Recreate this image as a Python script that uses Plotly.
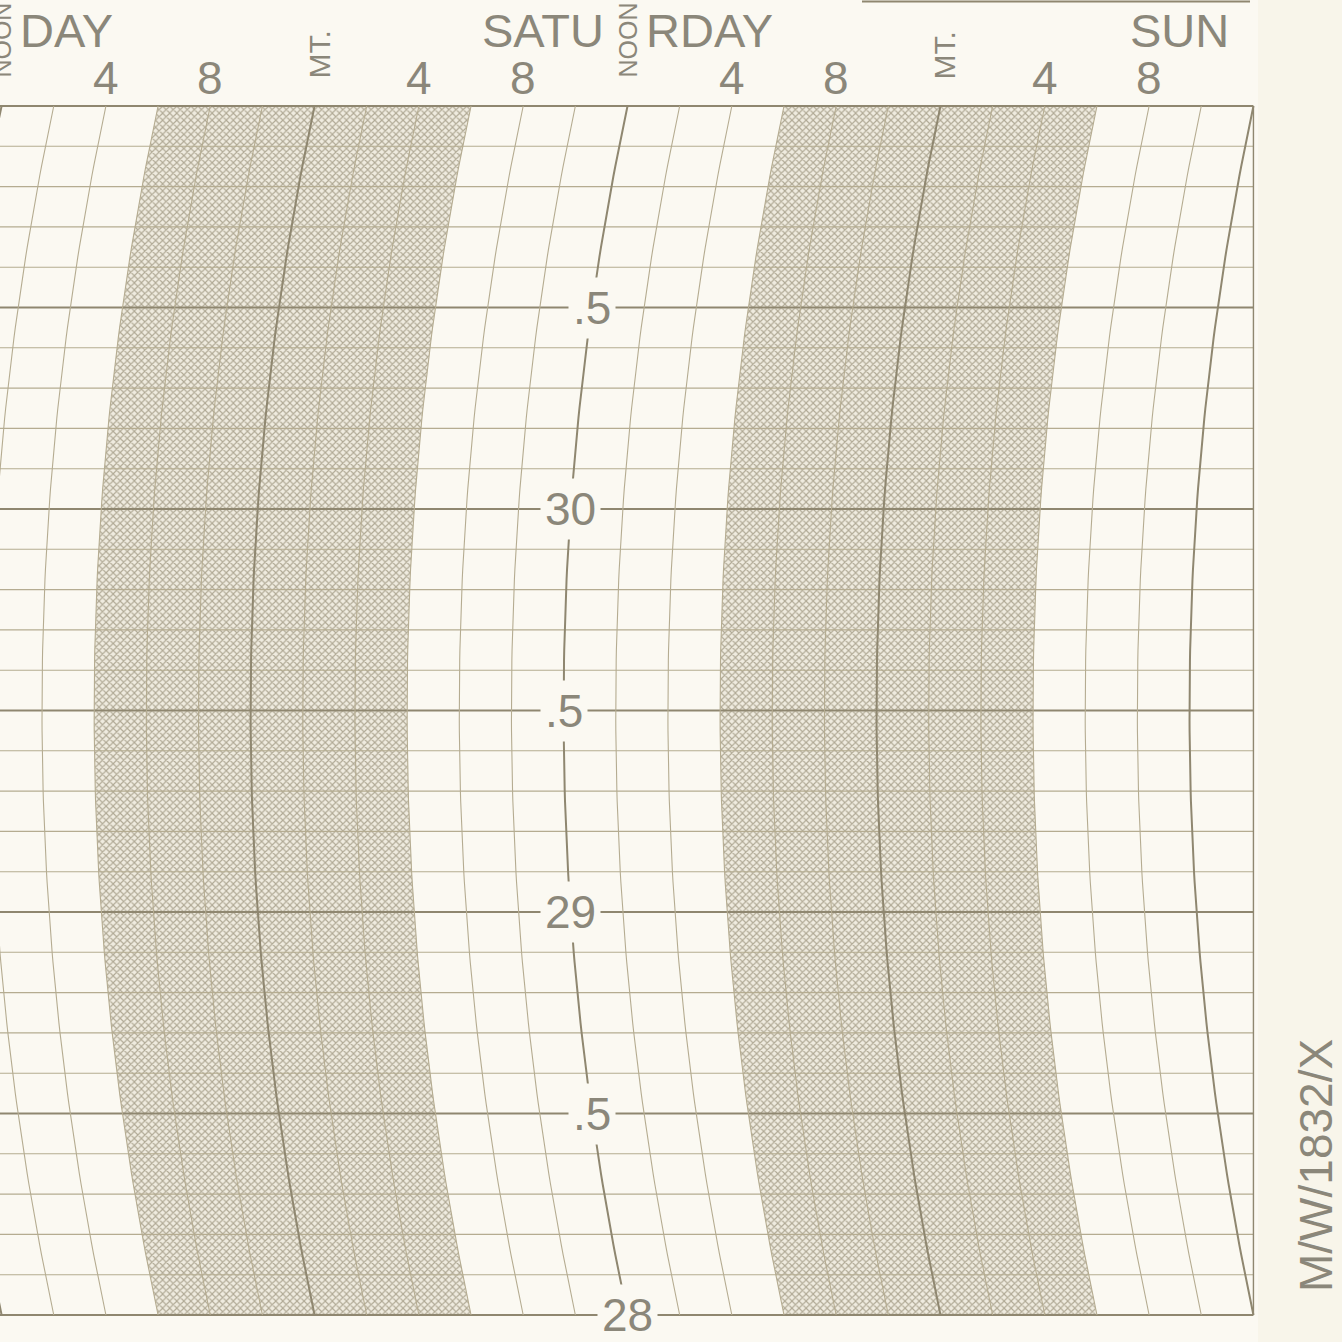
import numpy as np
import plotly.graph_objects as go

# ---------------- data ----------------
pressure_min = 28.0
pressure_max = 31.0
pressure_step = 0.1
pressure_label_values = [28.0, 28.5, 29.0, 29.5, 30.0, 30.5]
pressure_labels = ["28", ".5", "29", ".5", "30", ".5"]

hour_tick_pos = [4, 8, 16, 20, 28, 32, 40, 44]          # hours after Friday noon
hour_tick_labels = ["4", "8", "4", "8", "4", "8", "4", "8"]
midnight_pos = [12, 36]
noon_pos = [0, 24]
day_noon = [0, 24, 48]
day_left = ["FRI", "SATU", "SUN"]
day_right = ["DAY", "RDAY", ""]
night_start = [6, 30]
night_end = [18, 42]
chart_end_hour = 48
grid_hour_step = 2
form_code = "M/W/1832/X"

# ---------------- geometry / style ----------------
W = H = 1342
PX_H = 26.08          # px per hour
PX_P = 403.0          # px per inHg
X0_PX = 1.6           # pixel of Friday noon
Y30_PX = 509.0        # pixel of 30 inHg
R_ARC = 2890.0        # arc radius in px
HALF = (pressure_max - pressure_min) / 2 * PX_P
S_ARC = R_ARC - np.sqrt(R_ARC**2 - HALF**2)
P_MID = (pressure_max + pressure_min) / 2

x_range = [(0 - X0_PX) / PX_H, (W - X0_PX) / PX_H]
y_range = [30 - (H - Y30_PX) / PX_P, 30 + Y30_PX / PX_P]

PAPER = "#fbf9f2"
LINE = "#b5ac91"
LINE_DARK = "#8f8770"
TEXT = "#8b877a"
FONT = "Liberation Sans, Arial, sans-serif"


def arc_offset(p):
    d = (np.asarray(p) - P_MID) * PX_P
    return ((R_ARC - np.sqrt(R_ARC**2 - d**2)) - S_ARC) / PX_H


def px_to_p(ypx):
    return 30 + (Y30_PX - ypx) / PX_P


def px_to_t(xpx):
    return (xpx - X0_PX) / PX_H


p_curve = np.linspace(pressure_min, pressure_max, 121)

fig = go.Figure()

# night shading bands
for t0, t1 in zip(night_start, night_end):
    xs = np.concatenate([t0 + arc_offset(p_curve), (t1 + arc_offset(p_curve))[::-1]])
    ys = np.concatenate([p_curve, p_curve[::-1]])
    fig.add_trace(go.Scatter(
        x=xs, y=ys, mode="lines", fill="toself", line=dict(width=0),
        fillcolor="#e6e2d4",
        fillpattern=dict(shape="x", size=5, solidity=0.4,
                         fgcolor="#b0a995", bgcolor="#efebdf", fillmode="replace"),
        hoverinfo="skip", showlegend=False))

# horizontal pressure lines
n_lines = int(round((pressure_max - pressure_min) / pressure_step))
for i in range(n_lines + 1):
    p = pressure_min + i * pressure_step
    major = abs((p * 2) - round(p * 2)) < 1e-6
    border = i == 0 or i == n_lines
    fig.add_trace(go.Scatter(
        x=[x_range[0] - 1, chart_end_hour], y=[p, p], mode="lines",
        line=dict(color=LINE_DARK if (major or border) else LINE,
                  width=2.2 if border else (1.8 if major else 1.1)),
        hoverinfo="skip", showlegend=False))

# curved time lines
for t in range(-4, chart_end_hour + 1, grid_hour_step):
    heavy = t % 12 == 0
    fig.add_trace(go.Scatter(
        x=t + arc_offset(p_curve), y=p_curve, mode="lines",
        line=dict(color=LINE_DARK if heavy else LINE, width=2.0 if heavy else 1.1),
        hoverinfo="skip", showlegend=False))

# straight right border
fig.add_trace(go.Scatter(
    x=[chart_end_hour, chart_end_hour], y=[pressure_min, pressure_max], mode="lines",
    line=dict(color=LINE_DARK, width=1.4), hoverinfo="skip", showlegend=False))

annotations = []
# pressure labels on Saturday noon curve
for v, lab in zip(pressure_label_values, pressure_labels):
    annotations.append(dict(
        x=24 + float(arc_offset(v)), y=v, text=lab, showarrow=False,
        font=dict(family=FONT, size=46, color=TEXT),
        bgcolor=PAPER, borderpad=4, xanchor="center", yanchor="middle"))

# hour labels
y_hour = px_to_p(78)
for t, lab in zip(hour_tick_pos, hour_tick_labels):
    annotations.append(dict(x=t, y=y_hour, text=lab, showarrow=False,
                            font=dict(family=FONT, size=46, color=TEXT),
                            xanchor="center", yanchor="middle"))
for t in midnight_pos:
    annotations.append(dict(x=t + 4 / PX_H, y=px_to_p(55), text="MT.",
                            textangle=-90, showarrow=False,
                            font=dict(family=FONT, size=30, color=TEXT),
                            xanchor="center", yanchor="middle"))
for t in noon_pos:
    annotations.append(dict(x=t, y=px_to_p(40), text="NOON", textangle=-90,
                            showarrow=False,
                            font=dict(family=FONT, size=25, color=TEXT),
                            xanchor="center", yanchor="middle"))

# day names split around noon
y_day = px_to_p(30)
for t, left, right in zip(day_noon, day_left, day_right):
    if left:
        annotations.append(dict(x=t - 22 / PX_H, y=y_day, text=left, showarrow=False,
                                font=dict(family=FONT, size=47, color=TEXT),
                                xanchor="right", yanchor="middle"))
    if right:
        annotations.append(dict(x=t + 16 / PX_H, y=y_day, text=right, showarrow=False,
                                font=dict(family=FONT, size=47, color=TEXT),
                                xanchor="left", yanchor="middle"))

# form code on the right margin
annotations.append(dict(x=px_to_t(1316), y=px_to_p(1166), text=form_code, textangle=-90,
                        showarrow=False, font=dict(family=FONT, size=46, color=TEXT),
                        xanchor="center", yanchor="middle"))

shapes = [
    dict(type="rect", xref="paper", yref="paper", x0=1258 / W, x1=1.0, y0=0, y1=1,
         fillcolor="#f8f5ea", line=dict(width=0), layer="below"),
    dict(type="line", xref="paper", yref="paper", x0=862 / W, x1=1250 / W,
         y0=1 - 1.5 / H, y1=1 - 1.5 / H, line=dict(color=LINE_DARK, width=2)),
]

fig.update_layout(
    width=W, height=H,
    margin=dict(l=0, r=0, t=0, b=0),
    paper_bgcolor=PAPER, plot_bgcolor=PAPER,
    xaxis=dict(visible=False, range=x_range, fixedrange=True),
    yaxis=dict(visible=False, range=y_range, fixedrange=True),
    annotations=annotations, shapes=shapes, showlegend=False,
)

fig.write_html("out.html", config={"displayModeBar": False},
               post_script="document.body.style.margin='0px';document.body.style.overflow='hidden';")
